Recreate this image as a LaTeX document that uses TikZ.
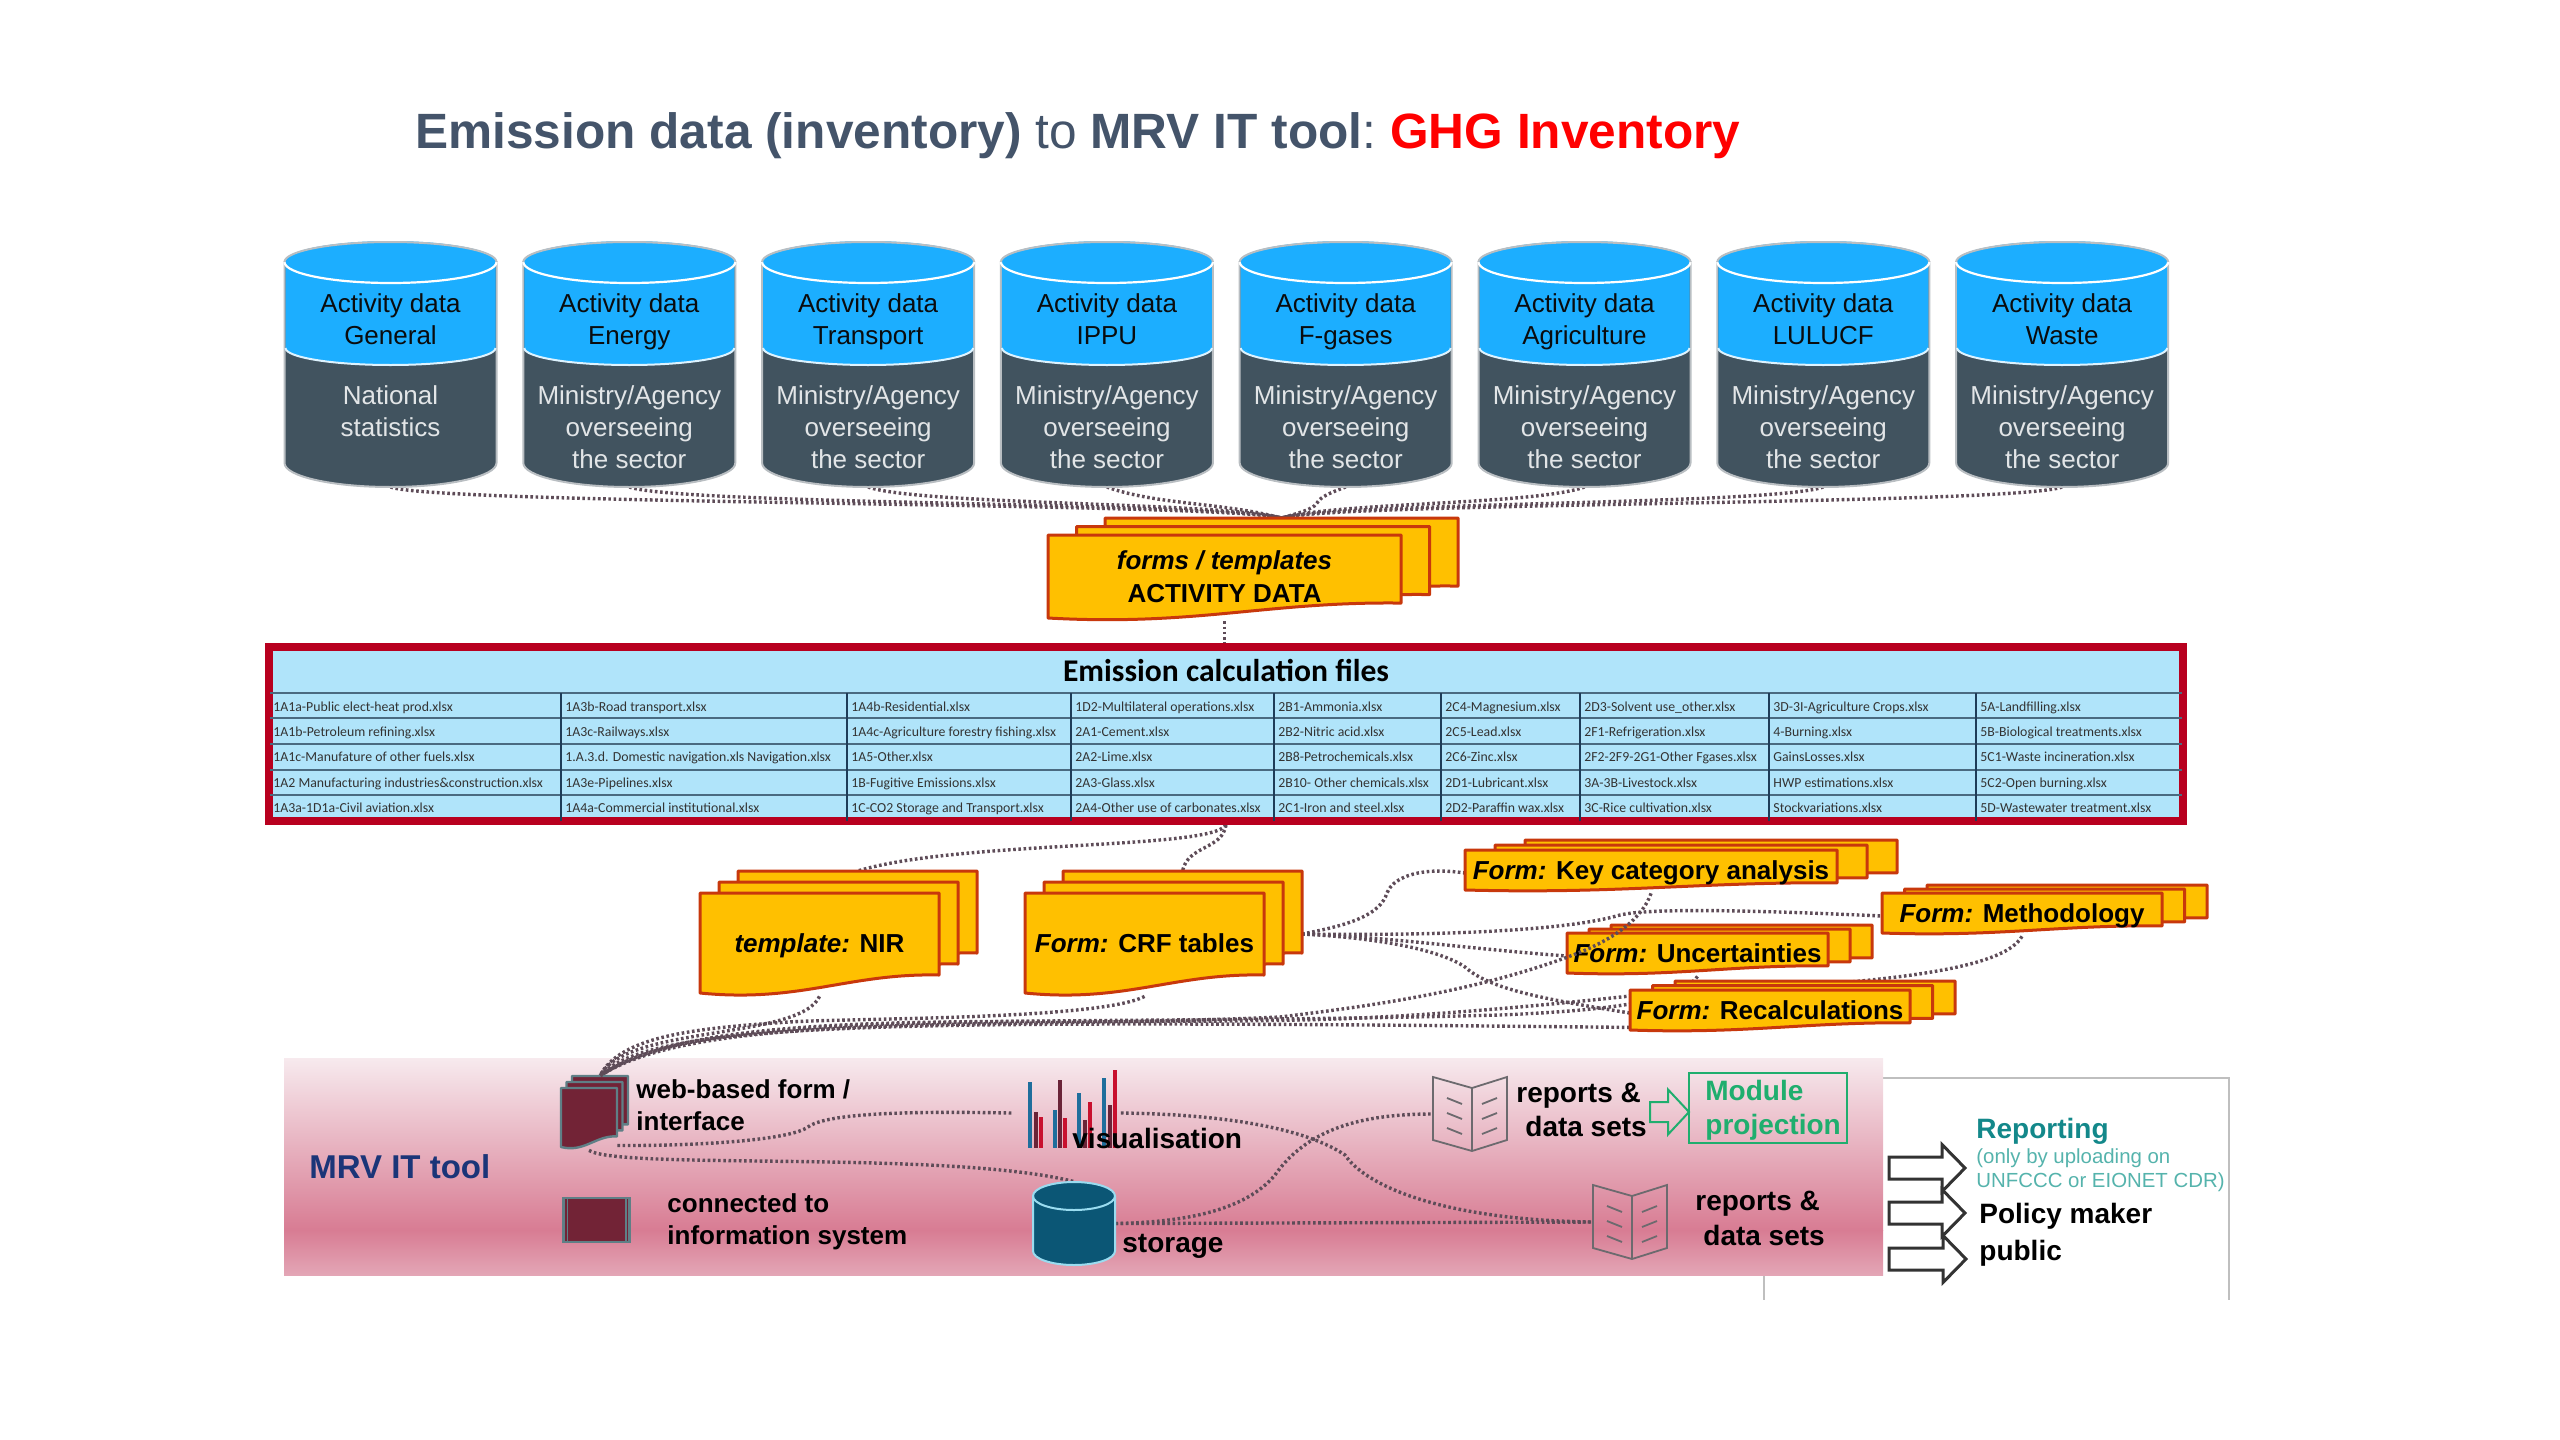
\documentclass[tikz,border=0pt]{standalone}
\usepackage{fontspec}
\setmainfont{Liberation Sans}
\newfontfamily\carlitofont{Carlito}
\usetikzlibrary{positioning}
\pgfdeclarelayer{backdrop}
\pgfdeclarelayer{links}
\pgfsetlayers{backdrop,links,main}

\definecolor{titleslate}{HTML}{44546A}
\definecolor{cylblue}{HTML}{1CAEFF}
\definecolor{cylbase}{HTML}{41535F}
\definecolor{cylrim}{HTML}{B9BEC2}
\definecolor{sheetfill}{HTML}{FFC000}
\definecolor{sheetrim}{HTML}{C8380C}
\definecolor{tablered}{HTML}{B8001F}
\definecolor{tablefill}{HTML}{B0E4FA}
\definecolor{tablerow}{HTML}{4A6A80}
\definecolor{tablecol}{HTML}{1E3C58}
\definecolor{linkgrey}{HTML}{5E4C58}
\definecolor{mrvtop}{HTML}{F7EAEE}
\definecolor{mrvmid}{HTML}{D87C93}
\definecolor{mrvlow}{HTML}{E3A6B6}
\definecolor{mrvnavy}{HTML}{1B3578}
\definecolor{webmaroon}{HTML}{722336}
\definecolor{webrim}{HTML}{5F7F86}
\definecolor{storeblue}{HTML}{0B5675}
\definecolor{storerim}{HTML}{9ADCF0}
\definecolor{bookgrey}{HTML}{6C6A6E}
\definecolor{modgreen}{HTML}{1FAE6E}
\definecolor{repteal}{HTML}{13888A}
\definecolor{replight}{HTML}{55B3AC}
\definecolor{barblue}{HTML}{1F6E9C}
\definecolor{barmaroon}{HTML}{6A2438}
\definecolor{barred}{HTML}{C8102E}

\tikzset{
  sheetbox/.style={draw=sheetrim, fill=sheetfill, line width=1.5pt, line join=round},
  websheet/.style={draw=webrim, fill=webmaroon, line width=1.2pt, line join=round},
  sheettext/.style={font=\fontsize{13}{16.5}\selectfont\bfseries, inner sep=0pt, align=center},
  linkline/.style={draw=linkgrey, line width=1.7pt, dash pattern=on 1.3pt off 1.3pt},
  cyltext/.style={font=\fontsize{13}{16}\selectfont, inner sep=0pt, align=center, text=#1},
  celltext/.style={font=\carlitofont\fontsize{6.9}{7}\selectfont, anchor=west, inner sep=0pt, text=black!80, text height=5pt, text depth=1.5pt},
  labeltext/.style={font=\fontsize{14}{16}\selectfont\bfseries, anchor=west, inner sep=0pt, text height=10pt, text depth=3pt},
  formlabel/.style={font=\fontsize{13}{16}\selectfont\bfseries, anchor=west, inner sep=0pt, text height=10pt, text depth=3pt},
  reparrow/.style={draw=black!80, fill=white, line width=1.5pt, line join=miter},
  modarrow/.style={draw=modgreen, line width=1pt, line join=miter},
  bookmark/.style={draw=bookgrey, line width=0.9pt}
}

% one sheet with a wavy lower edge
\newcommand{\formsheet}[5]{
  \path[#1] (#2,#3) -- ({#2+#4},#3) -- ({#2+#4},{#3+0.82*#5})
    .. controls ({#2+0.62*#4},{#3+0.80*#5}) and ({#2+0.42*#4},{#3+1.10*#5}) .. (#2,{#3+#5}) -- cycle;
}
% three sheets, the text node sits on the front one
\newcommand{\formstack}[9][sheetbox]{
  \formsheet{#1}{#3+2*#7}{#4+2*#8}{#5}{#6}
  \formsheet{#1}{#3+#7}{#4+#8}{#5}{#6}
  \formsheet{#1}{#3}{#4}{#5}{#6}
  \coordinate (#2top) at ({#3+2*#7+0.5*#5},{#4+2*#8});
  \coordinate (#2right) at ({#3+2*#7+#5},{#4+2*#8+0.63*#6});
  \node[sheettext, minimum width={0.5pt*#5}, minimum height={0.5pt*#6}] (#2) at ({#3+0.5*#5},{#4+0.5*#6+3}) {#9};
}
\newcommand{\bookicon}[3]{
  \draw[bookmark] (#2,#3) -- ({#2+39},{#3+11}) -- ({#2+74},#3) -- ({#2+74},{#3+63})
    -- ({#2+39},{#3+74}) -- (#2,{#3+63}) -- cycle ({#2+39},{#3+11}) -- ({#2+39},{#3+74});
  \foreach \my in {21,36,51} {
    \draw[bookmark] ({#2+14},{#3+\my}) -- ({#2+29},{#3+\my+6});
    \draw[bookmark] ({#2+49},{#3+\my+6}) -- ({#2+64},{#3+\my});
  }
  \node[minimum width=37pt, minimum height=37pt, inner sep=0pt] (#1) at ({#2+37},{#3+37}) {};
}
% block arrow: style, left x, middle y, length, head length, half shaft, half head
\newcommand{\blockarrow}[7]{
  \path[#1] (#2,{#3-#6}) -- ({#2+#4-#5},{#3-#6}) -- ({#2+#4-#5},{#3-#7}) -- ({#2+#4},#3)
    -- ({#2+#4-#5},{#3+#7}) -- ({#2+#4-#5},{#3+#6}) -- (#2,{#3+#6}) -- cycle;
}

\begin{document}
\begin{tikzpicture}[x=0.5pt, y=-0.5pt]
  \useasboundingbox (0,0) rectangle (2560,1440);

  \node[font=\fontsize{24.8}{30}\selectfont\bfseries, anchor=west, inner sep=0pt, text=titleslate] (title) at (415,136)
    {Emission data (inventory) {\mdseries to} MRV IT tool{\mdseries :}\hspace{-2.2pt} \textcolor{red}{GHG Inventory}};

  % databases
  \foreach \cx/\nm/\sect/\lowtxt in {
      390.5/gen/General/{\strut National\\\strut statistics},
      629.3/ene/Energy/{\strut Ministry/Agency\\\strut overseeing\\\strut the sector},
      868.1/tra/Transport/{\strut Ministry/Agency\\\strut overseeing\\\strut the sector},
      1106.9/ipp/IPPU/{\strut Ministry/Agency\\\strut overseeing\\\strut the sector},
      1345.7/fga/F-gases/{\strut Ministry/Agency\\\strut overseeing\\\strut the sector},
      1584.5/agr/Agriculture/{\strut Ministry/Agency\\\strut overseeing\\\strut the sector},
      1823.3/luc/LULUCF/{\strut Ministry/Agency\\\strut overseeing\\\strut the sector},
      2062.1/was/Waste/{\strut Ministry/Agency\\\strut overseeing\\\strut the sector}} {
    \draw[cylrim, line width=1pt, fill=cylbase] ({\cx-106},262) -- ({\cx-106},463)
      arc[start angle=180, end angle=0, x radius=106, y radius=24] -- ({\cx+106},262) -- cycle;
    \fill[cylblue] ({\cx-105},262) -- ({\cx-105},348)
      arc[start angle=180, end angle=0, x radius=105, y radius=17] -- ({\cx+105},262) -- cycle;
    \draw[white!85!cylblue, line width=1pt] ({\cx-105},348) arc[start angle=180, end angle=0, x radius=105, y radius=17];
    \fill[cylblue] (\cx,262) ellipse [x radius=106, y radius=21];
    \draw[white, line width=1.1pt] ({\cx-106},262) arc[start angle=180, end angle=0, x radius=106, y radius=21];
    \draw[cylrim, line width=1pt] ({\cx-106},262) arc[start angle=180, end angle=360, x radius=106, y radius=20];
    \node[cyltext={black!85!cylbase}] (top\nm) at (\cx,322) {\strut Activity data\\\strut\sect};
    \node[cyltext={white!85!cylbase}, anchor=north] (low\nm) at (\cx,382) {\lowtxt};
    \coordinate (foot\nm) at (\cx,487);
  }

  % forms
  \formstack{actform}{1048}{535}{353}{83}{28.5}{-8.5}{\strut\textit{forms / templates}\\\strut ACTIVITY DATA}
  \formstack{nirform}{700}{893}{239}{100}{19}{-11}{\strut\textit{template:} NIR}
  \formstack{crfform}{1025}{893}{239}{100}{19}{-11}{\strut\textit{Form:} CRF tables}
  \formstack{kcaform}{1465}{850}{372}{40}{30}{-5}{\strut\textit{Form:} Key category analysis}
  \formstack{metform}{1882}{893}{280}{40}{22.5}{-4}{\strut\textit{Form:} Methodology}
  \formstack{uncform}{1567}{933}{261}{40}{22}{-4}{\strut\textit{Form:} Uncertainties}
  \formstack{recform}{1630}{990}{280}{40}{22.5}{-4.5}{\strut\textit{Form:} Recalculations}

  % emission table
  \node[draw=tablered, fill=tablefill, line width=4pt, inner sep=0pt, minimum width=957pt, minimum height=87pt] (calcfiles) at (1226,734) {};
  \node[font=\carlitofont\fontsize{15.8}{20}\selectfont\bfseries, inner sep=0pt] (calctitle) at (1226,670) {Emission calculation files};
  \foreach \ly in {693,718,744,770,795} {
    \draw[tablerow, line width=1pt] (270,\ly) -- (2182,\ly);
  }
  \foreach \lx in {561,847,1071,1274,1441,1580,1769,1976} {
    \draw[tablecol, line width=0.6pt] (\lx,693) -- (\lx,821);
  }
  \foreach \colx/\cola/\colb/\colc/\cold/\cole in {
      273/{1A1a-Public elect-heat prod.xlsx}/{1A1b-Petroleum refining.xlsx}/{1A1c-Manufature of other fuels.xlsx}/{1A2 Manufacturing industries\&construction.xlsx}/{1A3a-1D1a-Civil aviation.xlsx},
      565/{1A3b-Road transport.xlsx}/{1A3c-Railways.xlsx}/{1.A.3.d. Domestic navigation.xls Navigation.xlsx}/{1A3e-Pipelines.xlsx}/{1A4a-Commercial institutional.xlsx},
      851/{1A4b-Residential.xlsx}/{1A4c-Agriculture forestry fishing.xlsx}/{1A5-Other.xlsx}/{1B-Fugitive Emissions.xlsx}/{1C-CO2 Storage and Transport.xlsx},
      1075/{1D2-Multilateral operations.xlsx}/{2A1-Cement.xlsx}/{2A2-Lime.xlsx}/{2A3-Glass.xlsx}/{2A4-Other use of carbonates.xlsx},
      1278/{2B1-Ammonia.xlsx}/{2B2-Nitric acid.xlsx}/{2B8-Petrochemicals.xlsx}/{2B10- Other chemicals.xlsx}/{2C1-Iron and steel.xlsx},
      1445/{2C4-Magnesium.xlsx}/{2C5-Lead.xlsx}/{2C6-Zinc.xlsx}/{2D1-Lubricant.xlsx}/{2D2-Paraffin wax.xlsx},
      1584/{2D3-Solvent use\_other.xlsx}/{2F1-Refrigeration.xlsx}/{2F2-2F9-2G1-Other Fgases.xlsx}/{3A-3B-Livestock.xlsx}/{3C-Rice cultivation.xlsx},
      1773/{3D-3I-Agriculture Crops.xlsx}/{4-Burning.xlsx}/{GainsLosses.xlsx}/{HWP estimations.xlsx}/{Stockvariations.xlsx},
      1980/{5A-Landfilling.xlsx}/{5B-Biological treatments.xlsx}/{5C1-Waste incineration.xlsx}/{5C2-Open burning.xlsx}/{5D-Wastewater treatment.xlsx}} {
    \node[celltext] (cell\colx a) at (\colx,708) {\cola};
    \node[celltext] (cell\colx b) at (\colx,733) {\colb};
    \node[celltext] (cell\colx c) at (\colx,758) {\colc};
    \node[celltext] (cell\colx d) at (\colx,784) {\cold};
    \node[celltext] (cell\colx e) at (\colx,809) {\cole};
  }

  % MRV panel
  \begin{pgfonlayer}{backdrop}
    \draw[black!25, line width=0.7pt] (1883,1078) -- (2229,1078) -- (2229,1300);
    \draw[black!25, line width=0.7pt] (1764,1275) -- (1764,1300);
    \shade[top color=mrvtop, bottom color=mrvmid] (284,1058) rectangle (1883,1230);
    \shade[top color=mrvmid, bottom color=mrvlow] (284,1230) rectangle (1883,1275);
  \end{pgfonlayer}
  \node[font=\fontsize{16.5}{20}\selectfont\bfseries, text=mrvnavy, anchor=west, inner sep=0pt] (mrvname) at (309,1167) {MRV IT tool};

  \formstack[websheet]{webform}{561}{1088}{56}{59}{5.5}{-6}{}
  \node[formlabel] (webtexta) at (636,1091) {web-based form /};
  \node[formlabel] (webtextb) at (636,1123) {interface};
  \node[draw=webrim, fill=webmaroon, line width=1.2pt, inner sep=0pt, minimum width=33pt, minimum height=22pt] (infosys) at (596.5,1220) {};
  \draw[webrim, line width=0.8pt] ([xshift=2.5pt]infosys.north west) -- ([xshift=2.5pt]infosys.south west);
  \draw[webrim, line width=0.8pt] ([xshift=-2.5pt]infosys.north east) -- ([xshift=-2.5pt]infosys.south east);
  \node[formlabel] (infotexta) at (667,1205) {connected to};
  \node[formlabel] (infotextb) at (667,1237) {information system};

  % bars
  \node[inner sep=0pt, minimum width=54pt, minimum height=40pt] (barchart) at (1066.5,1113) {};
  \foreach \bx/\by/\bc in {1030/1082/barblue, 1036/1112/barmaroon, 1041/1117/barred,
      1055/1110/barblue, 1060/1080/barmaroon, 1065/1118/barred,
      1079/1093/barblue, 1085/1120/barmaroon, 1090/1102/barred,
      1104/1078/barblue, 1110/1105/barmaroon, 1115/1070/barred} {
    \fill[\bc] ({\bx-2},\by) rectangle ({\bx+2},1148);
  }
  \node[labeltext] (vistext) at (1072,1141) {visualisation};

  \draw[storerim, line width=1pt, fill=storeblue] (1033,1196) -- (1033,1251) arc[start angle=180, end angle=0, x radius=41, y radius=14]
    -- (1115,1196) arc[start angle=0, end angle=-180, x radius=41, y radius=14] -- cycle;
  \draw[storerim, line width=1pt] (1033,1196) arc[start angle=180, end angle=0, x radius=41, y radius=14];
  \node[inner sep=0pt, minimum width=41pt, minimum height=41.5pt] (storage) at (1074,1223.5) {};
  \node[labeltext] (storetext) at (1122,1245) {storage};

  \bookicon{bookup}{1433}{1077}
  \node[labeltext] (bookupa) at (1516,1095) {reports \&};
  \node[labeltext] (bookupb) at (1525,1129) {data sets};
  \bookicon{booklow}{1593}{1185}
  \node[labeltext] (booklowa) at (1695,1203) {reports \&};
  \node[labeltext] (booklowb) at (1703,1238) {data sets};

  \blockarrow{modarrow}{1650}{1112}{39}{21}{10}{22.5}
  \node[draw=modgreen, line width=1.2pt, inner sep=0pt, minimum width=79pt, minimum height=35pt] (modbox) at (1768,1108) {};
  \node[labeltext, text=modgreen] (modtexta) at (1705,1093) {Module};
  \node[labeltext, text=modgreen] (modtextb) at (1705,1127) {projection};

  \blockarrow{reparrow}{1889}{1168}{76}{23}{11}{23.5}
  \blockarrow{reparrow}{1889}{1213}{76}{23}{11}{23.5}
  \blockarrow{reparrow}{1889}{1259}{77}{23}{11}{23.5}
  \node[labeltext, text=repteal] (reptext) at (1976,1131) {Reporting};
  \node[font=\fontsize{10.2}{12}\selectfont, text=replight, anchor=west, inner sep=0pt] (repsuba) at (1976,1158) {(only by uploading on};
  \node[font=\fontsize{10.2}{12}\selectfont, text=replight, anchor=west, inner sep=0pt] (repsubb) at (1976,1182) {UNFCCC or EIONET CDR)};
  \node[labeltext] (poltext) at (1979,1216) {Policy maker};
  \node[labeltext] (pubtext) at (1979,1253) {public};

  % connectors
  \begin{pgfonlayer}{links}
    \foreach \cx/\nm/\dd in {390.5/gen/1,629.3/ene/1,868.1/tra/1,1106.9/ipp/1,1345.7/fga/-1,1584.5/agr/-1,1823.3/luc/-1,2062.1/was/-1} {
      \draw[linkline] (foot\nm) .. controls ({\cx+\dd*50},505) and ({1280-\dd*60},502) .. (actformtop);
    }
    \draw[linkline] (actform.south) -- (actform.south |- calcfiles.north);
    \draw[linkline] (calcfiles.south) .. controls (1210,850) and (960,840) .. (nirformtop);
    \draw[linkline] (calcfiles.south) .. controls (1222,850) and (1188,845) .. (crfformtop);

    \draw[linkline] (crfformright) .. controls (1350,925) and (1380,915) .. (1387,893) .. controls (1394,875) and (1425,867) .. (kcaform.west);
    \draw[linkline] (crfformright) .. controls (1450,936) and (1570,930) .. (1620,915) .. controls (1650,908) and (1750,910) .. (metform.west);
    \draw[linkline] (crfformright) .. controls (1400,938) and (1460,948) .. (uncform.west);
    \draw[linkline] (crfformright) .. controls (1380,938) and (1440,950) .. (1465,967) .. controls (1490,990) and (1550,1000) .. (recform.west);

    \draw[linkline] (nirform.south) .. controls (800,1040) and (625,1025) .. (webformtop);
    \draw[linkline] (crfform.south) .. controls (1100,1020) and (850,1018) .. (789,1022) .. controls (700,1028) and (620,1035) .. (webformtop);
    \draw[linkline] ([yshift=3pt]recform.south west) .. controls (900,1020) and (650,1020) .. (webformtop);
    \draw[linkline] (uncform.south) .. controls (1680,1000) and (1620,1010) .. (1500,1015) .. controls (1000,1028) and (700,1005) .. (webformtop);
    \draw[linkline] (metform.south) .. controls (2000,975) and (1850,985) .. (1630,996) .. controls (1520,1008) and (1400,1018) .. (1300,1020) .. controls (1000,1026) and (700,1005) .. (webformtop);

    \draw[linkline] ([yshift=-12.5pt]webform.east) .. controls (700,1146) and (790,1140) .. (808,1127) .. controls (830,1110) and (950,1112) .. (barchart.west);
    \draw[linkline] (webform.south) .. controls (620,1170) and (950,1150) .. (storage.north);
    \draw[linkline] (barchart.east) .. controls (1210,1114) and (1300,1125) .. (1345,1155) .. controls (1365,1185) and (1440,1220) .. (booklow.west);
    \draw[linkline] (storage.east) -- (booklow.west);
    \draw[linkline] (storage.east) .. controls (1200,1222) and (1250,1205) .. (1275,1175) .. controls (1310,1125) and (1370,1114) .. (bookup.west);
  \end{pgfonlayer}
  % this one runs over the corner of the uncertainties form
  \draw[linkline] (kcaform.south) .. controls (1640,925) and (1600,945) .. (1573,955) .. controls (1480,990) and (1380,1005) .. (1280,1017) .. controls (1000,1030) and (700,1010) .. (webformtop);
\end{tikzpicture}
\end{document}
